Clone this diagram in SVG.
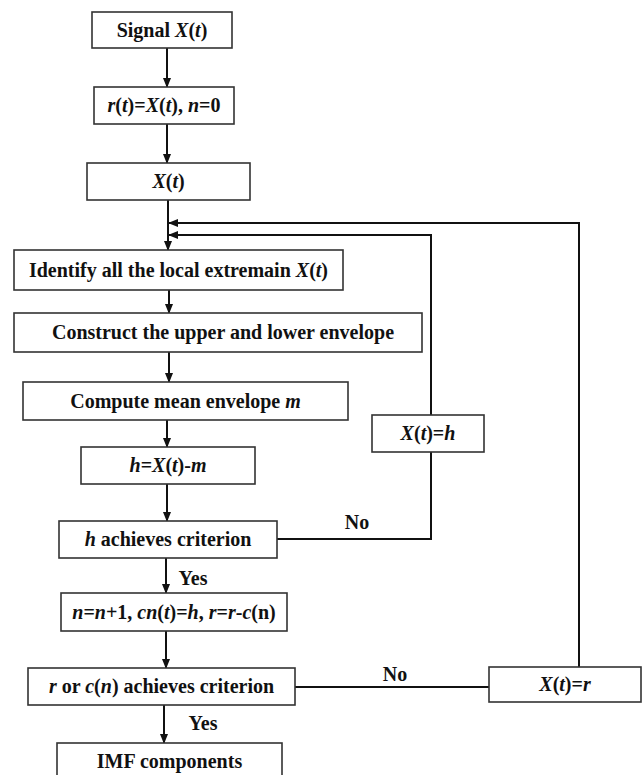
<svg xmlns="http://www.w3.org/2000/svg" width="643" height="775" viewBox="0 0 643 775">
<defs>
<marker id="ah" markerWidth="10" markerHeight="8" refX="9" refY="4" orient="auto" markerUnits="userSpaceOnUse">
<path d="M0,0 L10,4 L0,8 Z" fill="#111"/>
</marker>
<style>
.box{fill:#fff;stroke:#333;stroke-width:1.6}
.t{font-family:"Liberation Serif","Times New Roman",serif;font-weight:bold;font-size:20px;fill:#111;text-anchor:middle}
.i{font-style:italic}
.ln{fill:none;stroke:#111;stroke-width:2}
</style>
</defs>
<rect width="643" height="775" fill="#fff"/>
<g id="connectors">
<line class="ln" x1="167" y1="48" x2="167" y2="87" marker-end="url(#ah)"/>
<line class="ln" x1="167" y1="124" x2="167" y2="163" marker-end="url(#ah)"/>
<line class="ln" x1="168" y1="200" x2="168" y2="250" marker-end="url(#ah)"/>
<line class="ln" x1="169" y1="290" x2="169" y2="313" marker-end="url(#ah)"/>
<line class="ln" x1="169" y1="352" x2="169" y2="382" marker-end="url(#ah)"/>
<line class="ln" x1="167" y1="420" x2="167" y2="447" marker-end="url(#ah)"/>
<line class="ln" x1="167" y1="484" x2="167" y2="521" marker-end="url(#ah)"/>
<line class="ln" x1="166" y1="558" x2="166" y2="593" marker-end="url(#ah)"/>
<line class="ln" x1="166" y1="631" x2="166" y2="668" marker-end="url(#ah)"/>
<line class="ln" x1="164" y1="705" x2="164" y2="743" marker-end="url(#ah)"/>
<polyline class="ln" points="277,539 431,539 431,452"/>
<polyline class="ln" points="431,415 431,235 169,235" marker-end="url(#ah)"/>
<line class="ln" x1="295" y1="687" x2="489" y2="687"/>
<polyline class="ln" points="579,667 579,223 169,223" marker-end="url(#ah)"/>
<text class="t" x="357" y="529">No</text>
<text class="t" x="395" y="681">No</text>
<text class="t" x="193" y="585">Yes</text>
<text class="t" x="203" y="730">Yes</text>
</g>
<g id="n1"><rect class="box" x="92" y="12" width="140" height="36"/><text class="t" x="162" y="37">Signal <tspan class="i">X</tspan>(<tspan class="i">t</tspan>)</text></g>
<g id="n2"><rect class="box" x="94" y="87" width="140" height="37"/><text class="t" x="164" y="112"><tspan class="i">r</tspan>(<tspan class="i">t</tspan>)=<tspan class="i">X</tspan>(<tspan class="i">t</tspan>), <tspan class="i">n</tspan>=0</text></g>
<g id="n3"><rect class="box" x="87" y="163" width="163" height="37"/><text class="t" x="168.5" y="188"><tspan class="i">X</tspan>(<tspan class="i">t</tspan>)</text></g>
<g id="n4"><rect class="box" x="14" y="250" width="329" height="40"/><text class="t" x="178.5" y="277">Identify all the local extremain <tspan class="i">X</tspan>(<tspan class="i">t</tspan>)</text></g>
<g id="n5"><rect class="box" x="14" y="313" width="408" height="39"/><text class="t" x="223" y="339">Construct the upper and lower envelope</text></g>
<g id="n6"><rect class="box" x="23" y="382" width="325" height="38"/><text class="t" x="185.5" y="408">Compute mean envelope <tspan class="i">m</tspan></text></g>
<g id="n7"><rect class="box" x="81" y="447" width="174" height="37"/><text class="t" x="168" y="472"><tspan class="i">h</tspan>=<tspan class="i">X</tspan>(<tspan class="i">t</tspan>)-<tspan class="i">m</tspan></text></g>
<g id="n8"><rect class="box" x="59" y="521" width="218" height="37"/><text class="t" x="168" y="546"><tspan class="i">h</tspan> achieves criterion</text></g>
<g id="n9"><rect class="box" x="61" y="593" width="226" height="38"/><text class="t" x="174" y="619"><tspan class="i">n</tspan>=<tspan class="i">n</tspan>+1, <tspan class="i">cn</tspan>(<tspan class="i">t</tspan>)=<tspan class="i">h</tspan>, <tspan class="i">r</tspan>=<tspan class="i">r</tspan>-<tspan class="i">c</tspan>(n)</text></g>
<g id="n10"><rect class="box" x="28" y="668" width="267" height="37"/><text class="t" x="161.5" y="693"><tspan class="i">r</tspan> or <tspan class="i">c</tspan>(<tspan class="i">n</tspan>) achieves criterion</text></g>
<g id="n11"><rect class="box" x="57" y="743" width="225" height="50"/><text class="t" x="169.5" y="768">IMF components</text></g>
<g id="n12"><rect class="box" x="372" y="415" width="112" height="37"/><text class="t" x="428" y="440"><tspan class="i">X</tspan>(<tspan class="i">t</tspan>)=<tspan class="i">h</tspan></text></g>
<g id="n13"><rect class="box" x="489" y="667" width="152" height="35"/><text class="t" x="565" y="691"><tspan class="i">X</tspan>(<tspan class="i">t</tspan>)=<tspan class="i">r</tspan></text></g>
</svg>
